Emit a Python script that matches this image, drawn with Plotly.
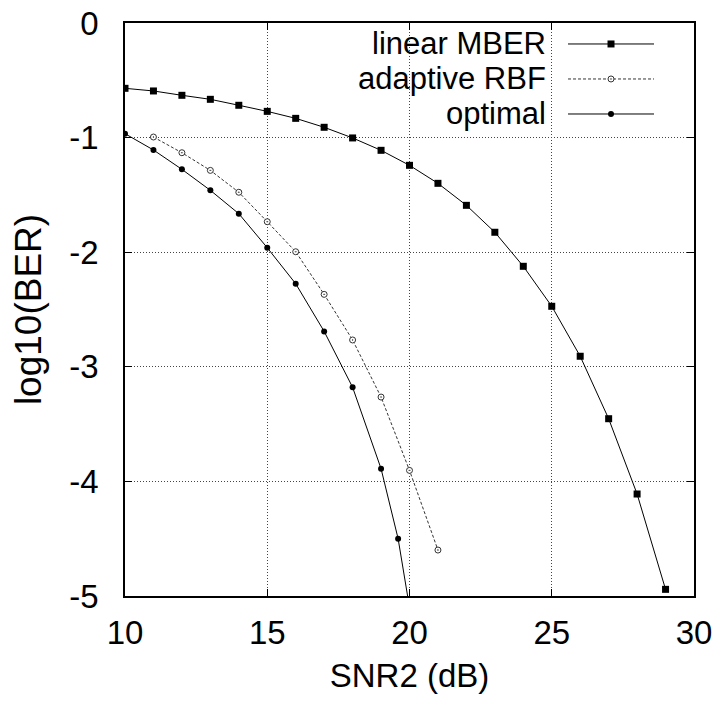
import plotly.graph_objects as go

# Signal-to-noise ratio grid (dB)
snr_mber = [10, 11, 12, 13, 14, 15, 16, 17, 18, 19, 20, 21, 22, 23, 24, 25, 26, 27, 28, 29]
snr_rbf = [11, 12, 13, 14, 15, 16, 17, 18, 19, 20, 21]
snr_opt = [10, 11, 12, 13, 14, 15, 16, 17, 18, 19, 19.6, 20]

# log10 of bit error rate per equaliser
ber_mber = [-0.57, -0.593, -0.631, -0.666, -0.718, -0.771, -0.832, -0.910, -1.003, -1.111,
            -1.242, -1.399, -1.591, -1.826, -2.123, -2.472, -2.908, -3.453, -4.110, -4.942]
ber_rbf = [-0.995, -1.132, -1.286, -1.477, -1.734, -1.996, -2.368, -2.766, -3.264, -3.904, -4.599]
ber_opt = [-0.966, -1.108, -1.277, -1.460, -1.664, -1.961, -2.275, -2.691, -3.179, -3.889, -4.50, -5.1]

series_names = ["linear MBER", "adaptive RBF", "optimal"]
x_ticks = [10, 15, 20, 25, 30]
y_ticks = [0, -1, -2, -3, -4, -5]

FONT = "Liberation Sans, Arial, Helvetica, sans-serif"
FS = 33
KEY_FS = 31

styles = [
    dict(line=dict(color="black", width=1, dash="solid"),
         marker=dict(symbol="square", size=7, color="black", line=dict(width=0))),
    dict(line=dict(color="#333333", width=1, dash="3px,2px"),
         marker=dict(symbol="circle-dot", size=6, color="white",
                     line=dict(color="#333333", width=1))),
    dict(line=dict(color="black", width=1, dash="solid"),
         marker=dict(symbol="circle", size=6, color="black", line=dict(width=0))),
]

fig = go.Figure()
for xs, ys, name, st in zip([snr_mber, snr_rbf, snr_opt],
                            [ber_mber, ber_rbf, ber_opt], series_names, styles):
    fig.add_trace(go.Scatter(x=xs, y=ys, mode="lines+markers", name=name,
                             showlegend=False, line=st["line"], marker=st["marker"]))

# gnuplot-style key: text on the left, sample line on the right
key_rows = [0.9634, 0.9023, 0.8412]
key_text_x = 0.742
key_x0, key_x1 = 0.7786, 0.9297
for name, st, ky in zip(series_names, styles, key_rows):
    fig.add_trace(go.Scatter(x=[key_x0, key_x1], y=[ky, ky], mode="lines",
                             xaxis="x2", yaxis="y2", showlegend=False,
                             line=st["line"], hoverinfo="skip"))
    fig.add_trace(go.Scatter(x=[(key_x0 + key_x1) / 2], y=[ky], mode="markers",
                             xaxis="x2", yaxis="y2", showlegend=False,
                             marker=st["marker"], hoverinfo="skip"))
    fig.add_annotation(x=key_text_x, y=ky, xref="paper", yref="paper",
                       text=name, showarrow=False, xanchor="right", yanchor="middle",
                       borderpad=0,
                       font=dict(family=FONT, size=KEY_FS, color="black"))

axis_common = dict(
    showline=True, linecolor="black", linewidth=1.5, mirror="allticks",
    ticks="inside", ticklen=7, tickwidth=1, tickcolor="black",
    showgrid=True, gridcolor="#444444", gridwidth=1, griddash="1px,2px",
    zeroline=False, tickfont=dict(family=FONT, size=FS, color="black"),
    automargin=False,
)

fig.update_layout(
    width=715, height=702,
    margin=dict(l=125, r=21, t=23, b=106),
    paper_bgcolor="white", plot_bgcolor="white",
    font=dict(family=FONT, size=FS, color="black"),
    xaxis=dict(range=[10, 30], tickvals=x_ticks, ticktext=[str(v) for v in x_ticks],
               title=dict(text="SNR2 (dB)", standoff=14,
                          font=dict(family=FONT, size=FS, color="black")),
               ticklabelstandoff=7, **axis_common),
    yaxis=dict(range=[-5, 0], tickvals=y_ticks, ticktext=[str(v) for v in y_ticks],
               title=dict(text="log10(BER)", standoff=16,
                          font=dict(family=FONT, size=37, color="black")),
               ticklabelstandoff=18, **axis_common),
    xaxis2=dict(overlaying="x", range=[0, 1], visible=False, fixedrange=True),
    yaxis2=dict(overlaying="y", range=[0, 1], visible=False, fixedrange=True),
)

fig.write_html("out.html")
